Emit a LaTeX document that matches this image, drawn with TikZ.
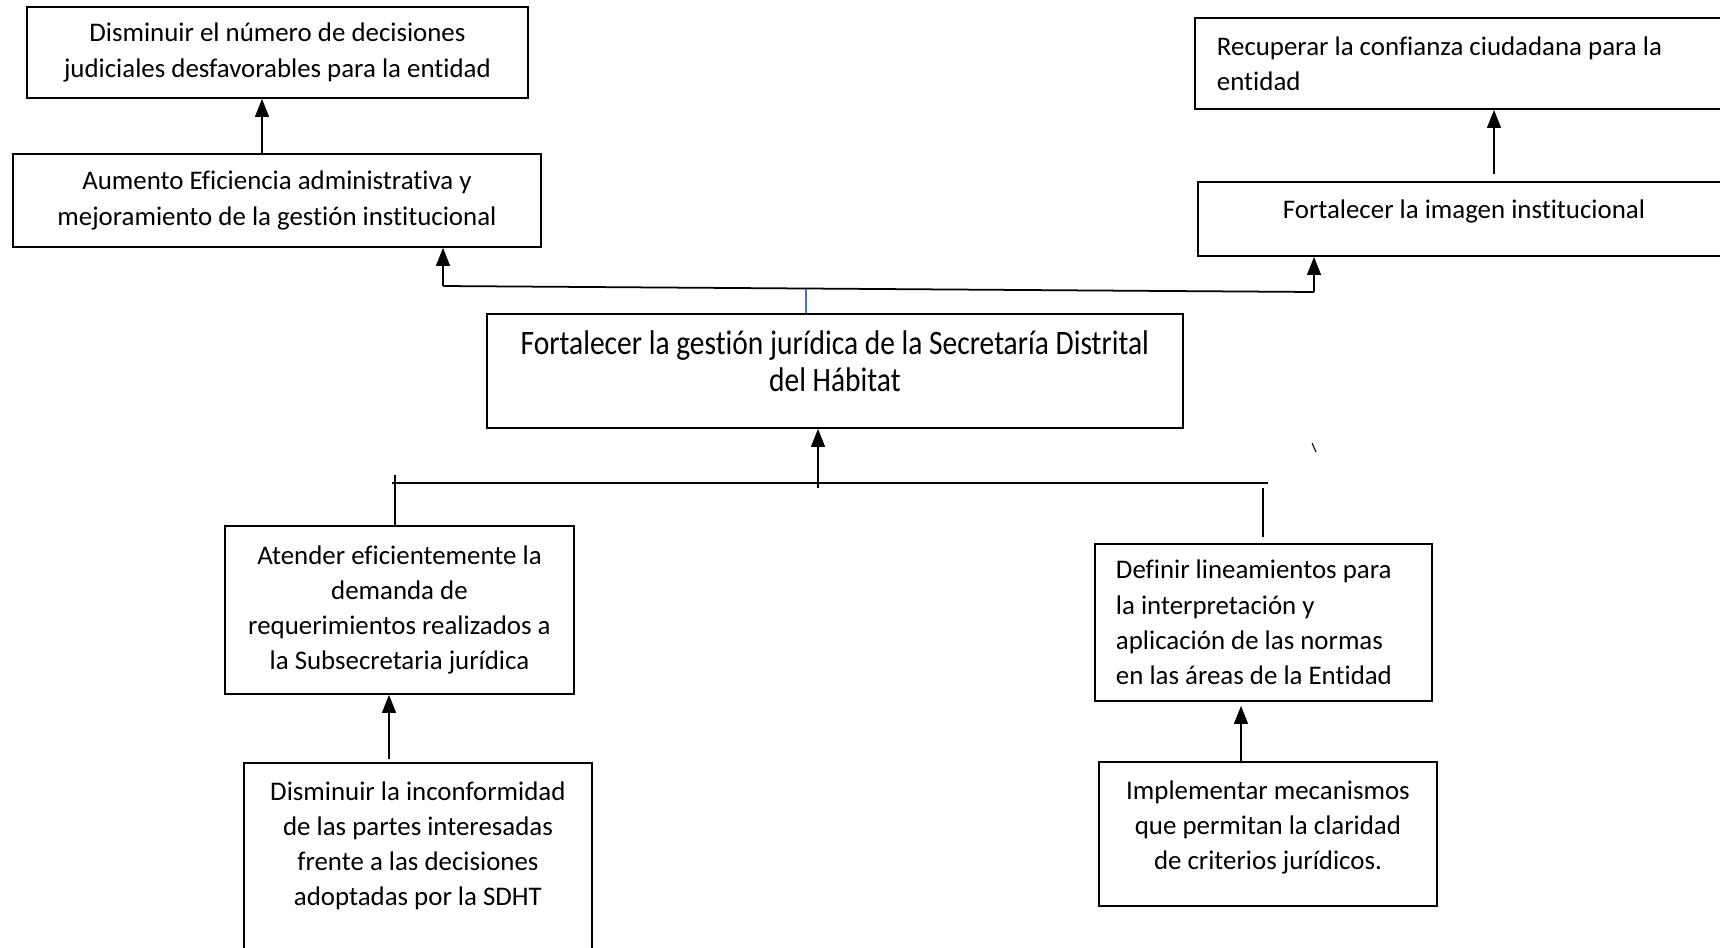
\documentclass[tikz,border=0pt]{standalone}
\usepackage{fontspec}
\setmainfont{Carlito}[Ligatures=NoCommon]
\newfontfamily\estrecha{Carlito}[FakeStretch=0.86, Ligatures=NoCommon]
\usetikzlibrary{arrows.meta}

\begin{document}
\begin{tikzpicture}[x=0.02cm, y=-0.02cm, >={Triangle[length=0.36cm, width=0.28cm]},
    caja/.style={draw, line width=1.1pt, anchor=north west, inner sep=0pt, align=center,
      font=\fontsize{15.3}{20}\selectfont},
    linea/.style={line width=0.7pt}]
  \useasboundingbox (0,0) rectangle (1720,947);
  \clip (0,0) rectangle (1720,947);
  \node[caja, minimum width=10.02cm, minimum height=1.82cm] (f1) at (26,6)
    {Disminuir el número de decisiones\\judiciales desfavorables para la entidad};
  \node[caja, minimum width=10.56cm, minimum height=1.86cm] (f2) at (12,153)
    {Aumento Eficiencia administrativa y\\mejoramiento de la gestión institucional};
  \node[caja, minimum width=10.7cm, minimum height=1.82cm, text width=9.82cm, align=flush left] (f3) at (1194,17)
    {Recuperar la confianza ciudadana para la\\entidad};
  \node[caja, minimum width=10.64cm, minimum height=1.48cm] (f4) at (1197,181)
    {Fortalecer la imagen institucional\\[-9pt]};
  \node[caja, minimum width=13.92cm, minimum height=2.28cm, font=\estrecha\fontsize{19.5}{21}\selectfont] (obj) at (486,313)
    {Fortalecer la gestión jurídica de la Secretaría Distrital\\del Hábitat\\[-9.8pt]};
  \node[caja, minimum width=6.98cm, minimum height=3.36cm] (m1) at (224,525)
    {Atender eficientemente la\\demanda de\\requerimientos realizados a\\la Subsecretaria jurídica};
  \node[caja, minimum width=6.74cm, minimum height=3.14cm, text width=5.9cm, align=flush left] (m2) at (1094,543)
    {Definir lineamientos para\\la interpretación y\\aplicación de las normas\\en las áreas de la Entidad};
  \node[caja, minimum width=6.96cm, minimum height=4cm] (m3) at (243,762)
    {Disminuir la inconformidad\\de las partes interesadas\\frente a las decisiones\\adoptadas por la SDHT\\[2pt]};
  \node[caja, minimum width=6.76cm, minimum height=2.88cm] (m4) at (1098,761)
    {Implementar mecanismos\\que permitan la claridad\\de criterios jurídicos.\\[-10.3pt]};

  \coordinate (xa) at (262,0);
  \coordinate (xf) at (1494,0);
  \coordinate (ts) at (443,286);
  \coordinate (td) at (1314,292);
  \coordinate (xb) at (806,289);
  \coordinate (bi) at (392,483);
  \coordinate (bd) at (1268,483);
  \coordinate (pi) at (395,475);
  \coordinate (pd) at (1263,488);
  \coordinate (pc) at (818,488);
  \coordinate (xm1) at (389,0);
  \coordinate (xm2) at (1241,0);

  \draw[linea, ->] (f2.north -| xa) -- (f1.south -| xa);
  \draw[linea, ->, shorten <=0.14cm] (f4.north -| xf) -- (f3.south -| xf);
  \draw[line width=1pt] (ts) -- (td);
  \draw[linea, ->] (ts) -- (ts |- f2.south);
  \draw[linea, ->] (td) -- (td |- f4.south);
  \draw[line width=0.6pt, color={rgb,255:red,68;green,114;blue,196}] (obj.north -| xb) -- (xb);
  \draw[linea, ->] (pc) -- (pc |- obj.south);
  \draw[line width=0.9pt] (bi) -- (bd);
  \draw[linea] (pi) -- (pi |- m1.north);
  \draw[linea, shorten >=0.12cm] (pd) -- (pd |- m2.north);
  \draw[linea, ->, shorten <=0.06cm] (m3.north -| xm1) -- (m1.south -| xm1);
  \draw[linea, ->, shorten >=0.08cm] (m4.north -| xm2) -- (m2.south -| xm2);
  \draw[line width=0.6pt] (1312,443) -- (1316,452);
\end{tikzpicture}
\end{document}
